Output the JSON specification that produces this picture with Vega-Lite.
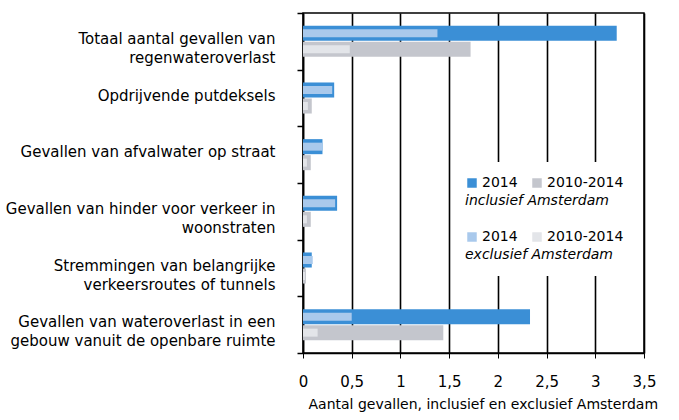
{
  "$schema": "https://vega.github.io/schema/vega-lite/v6.json",
  "width": 341,
  "height": 340,
  "autosize": {"type": "none"},
  "padding": {"left": 303, "top": 13, "right": 35, "bottom": 67},
  "background": "white",
  "config": {"font": "DejaVu Sans", "view": {"stroke": "black", "strokeWidth": 1.5}},
  "data": {
    "values": [
      {"category": "Totaal aantal gevallen van|regenwateroverlast", "scope": "incl", "period": "2014", "series": "2014 incl", "value": 3.22},
      {"category": "Totaal aantal gevallen van|regenwateroverlast", "scope": "incl", "period": "2010-2014", "series": "2010-2014 incl", "value": 1.72},
      {"category": "Totaal aantal gevallen van|regenwateroverlast", "scope": "excl", "period": "2014", "series": "2014 excl", "value": 1.38},
      {"category": "Totaal aantal gevallen van|regenwateroverlast", "scope": "excl", "period": "2010-2014", "series": "2010-2014 excl", "value": 0.48},
      {"category": "Opdrijvende putdeksels", "scope": "incl", "period": "2014", "series": "2014 incl", "value": 0.32},
      {"category": "Opdrijvende putdeksels", "scope": "incl", "period": "2010-2014", "series": "2010-2014 incl", "value": 0.09},
      {"category": "Opdrijvende putdeksels", "scope": "excl", "period": "2014", "series": "2014 excl", "value": 0.3},
      {"category": "Opdrijvende putdeksels", "scope": "excl", "period": "2010-2014", "series": "2010-2014 excl", "value": 0.05},
      {"category": "Gevallen van afvalwater op straat", "scope": "incl", "period": "2014", "series": "2014 incl", "value": 0.2},
      {"category": "Gevallen van afvalwater op straat", "scope": "incl", "period": "2010-2014", "series": "2010-2014 incl", "value": 0.08},
      {"category": "Gevallen van afvalwater op straat", "scope": "excl", "period": "2014", "series": "2014 excl", "value": 0.2},
      {"category": "Gevallen van afvalwater op straat", "scope": "excl", "period": "2010-2014", "series": "2010-2014 excl", "value": 0.04},
      {"category": "Gevallen van hinder voor verkeer in|woonstraten", "scope": "incl", "period": "2014", "series": "2014 incl", "value": 0.35},
      {"category": "Gevallen van hinder voor verkeer in|woonstraten", "scope": "incl", "period": "2010-2014", "series": "2010-2014 incl", "value": 0.08},
      {"category": "Gevallen van hinder voor verkeer in|woonstraten", "scope": "excl", "period": "2014", "series": "2014 excl", "value": 0.33},
      {"category": "Gevallen van hinder voor verkeer in|woonstraten", "scope": "excl", "period": "2010-2014", "series": "2010-2014 excl", "value": 0.04},
      {"category": "Stremmingen van belangrijke|verkeersroutes of tunnels", "scope": "incl", "period": "2014", "series": "2014 incl", "value": 0.09},
      {"category": "Stremmingen van belangrijke|verkeersroutes of tunnels", "scope": "incl", "period": "2010-2014", "series": "2010-2014 incl", "value": 0.03},
      {"category": "Stremmingen van belangrijke|verkeersroutes of tunnels", "scope": "excl", "period": "2014", "series": "2014 excl", "value": 0.1},
      {"category": "Stremmingen van belangrijke|verkeersroutes of tunnels", "scope": "excl", "period": "2010-2014", "series": "2010-2014 excl", "value": 0.02},
      {"category": "Gevallen van wateroverlast in een|gebouw vanuit de openbare ruimte", "scope": "incl", "period": "2014", "series": "2014 incl", "value": 2.33},
      {"category": "Gevallen van wateroverlast in een|gebouw vanuit de openbare ruimte", "scope": "incl", "period": "2010-2014", "series": "2010-2014 incl", "value": 1.44},
      {"category": "Gevallen van wateroverlast in een|gebouw vanuit de openbare ruimte", "scope": "excl", "period": "2014", "series": "2014 excl", "value": 0.5},
      {"category": "Gevallen van wateroverlast in een|gebouw vanuit de openbare ruimte", "scope": "excl", "period": "2010-2014", "series": "2010-2014 excl", "value": 0.15}
    ]
  },
  "encoding": {
    "y": {
      "field": "category",
      "type": "nominal",
      "sort": null,
      "scale": {"paddingInner": 0, "paddingOuter": 0},
      "axis": {
        "title": null,
        "domainColor": "black",
        "domainWidth": 1.5,
        "tickColor": "black",
        "tickWidth": 1.5,
        "tickBand": "extent",
        "tickSize": 6,
        "labelPadding": 22,
        "labelFontSize": 15,
        "labelColor": "black",
        "labelLineHeight": 19,
        "labelLimit": 400,
        "labelOffset": -3,
        "labelExpr": "split(datum.label, '|')"
      }
    },
    "x": {
      "field": "value",
      "type": "quantitative",
      "scale": {"domain": [0, 3.5], "nice": false},
      "axis": {
        "values": [0, 0.5, 1, 1.5, 2, 2.5, 3, 3.5],
        "format": "~g",
        "grid": true,
        "gridColor": "black",
        "gridWidth": 1.6,
        "gridOpacity": 1,
        "domainColor": "black",
        "domainWidth": 1.5,
        "tickColor": "black",
        "tickSize": 5,
        "labelExpr": "replace(datum.label, '.', ',')",
        "labelFontSize": 15,
        "labelColor": "black",
        "labelPadding": 16,
        "labelFlush": false,
        "title": "Aantal gevallen, inclusief en exclusief Amsterdam",
        "titleFontSize": 14,
        "titleFontWeight": "normal",
        "titleColor": "black",
        "titleAlign": "left",
        "titleBaseline": "top",
        "titleX": 5,
        "titleY": 44
      }
    },
    "yOffset": {
      "field": "period",
      "type": "nominal",
      "scale": {"domain": ["2014", "2010-2014"], "paddingInner": 0.06, "paddingOuter": 0.8}
    }
  },
  "layer": [
    {
      "transform": [{"filter": "datum.scope == 'incl'"}],
      "mark": {"type": "bar"},
      "encoding": {
        "color": {
          "field": "series",
          "type": "nominal",
          "scale": {"domain": ["2014 incl", "2010-2014 incl"], "range": ["#3b8fd6", "#c4c6cd"]},
          "legend": {
            "orient": "none",
            "legendX": 148,
            "legendY": 149,
            "direction": "horizontal",
            "title": "inclusief Amsterdam",
            "titleOrient": "bottom",
            "titleFontStyle": "italic",
            "titleFontWeight": "normal",
            "titleFontSize": 14,
            "titleColor": "black",
            "titleAnchor": "start",
            "titlePadding": 4,
            "labelFontSize": 14,
            "labelColor": "black",
            "labelExpr": "split(datum.label, ' ')[0]",
            "symbolType": "square",
            "symbolSize": 90,
            "symbolStrokeWidth": 0,
            "columnPadding": 12,
            "labelOffset": 3,
            "fillColor": "white",
            "padding": 14
          }
        }
      }
    },
    {
      "transform": [{"filter": "datum.scope == 'excl'"}],
      "mark": {"type": "bar", "height": 8, "yOffset": -3.5},
      "encoding": {
        "fill": {
          "field": "series",
          "type": "nominal",
          "scale": {"domain": ["2014 excl", "2010-2014 excl"], "range": ["#a9c9ec", "#e3e5e9"]},
          "legend": {
            "orient": "none",
            "legendX": 148,
            "legendY": 203,
            "direction": "horizontal",
            "title": "exclusief Amsterdam",
            "titleOrient": "bottom",
            "titleFontStyle": "italic",
            "titleFontWeight": "normal",
            "titleFontSize": 14,
            "titleColor": "black",
            "titleAnchor": "start",
            "titlePadding": 4,
            "labelFontSize": 14,
            "labelColor": "black",
            "labelExpr": "split(datum.label, ' ')[0]",
            "symbolType": "square",
            "symbolSize": 90,
            "symbolStrokeWidth": 0,
            "columnPadding": 12,
            "labelOffset": 3,
            "fillColor": "white",
            "padding": 14
          }
        }
      }
    }
  ]
}
